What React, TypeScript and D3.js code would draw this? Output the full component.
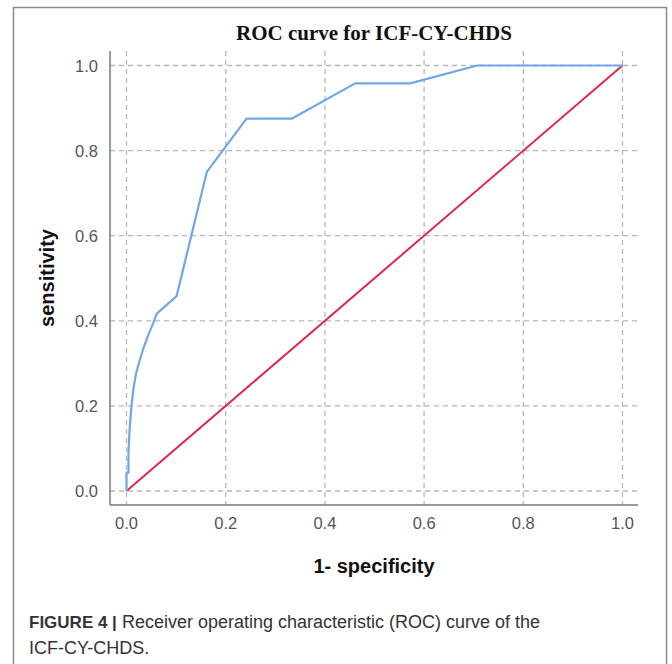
import React from "react";
import * as d3 from "d3";

const fpr = [0, 0, 0.004, 0.004, 0.006, 0.01, 0.014, 0.019, 0.026, 0.034, 0.044, 0.054, 0.061, 0.101, 0.162, 0.242, 0.333, 0.461, 0.572, 0.707, 1.0];
const tpr = [0, 0.043, 0.043, 0.09, 0.14, 0.2, 0.24, 0.275, 0.305, 0.335, 0.367, 0.395, 0.417, 0.458, 0.75, 0.875, 0.875, 0.958, 0.958, 1.0, 1.0];
const refLine = [0, 1];
const ticks = [0, 0.2, 0.4, 0.6, 0.8, 1.0];

export default function App() {
  const W = 672, H = 664;
  const x = d3.scaleLinear().domain([0, 1]).range([126.5, 622.5]);
  const y = d3.scaleLinear().domain([0, 1]).range([491, 65.5]);
  const line = d3.line<[number, number]>().x(d => x(d[0])).y(d => y(d[1]));
  const roc = line(fpr.map((f, i) => [f, tpr[i]] as [number, number]));
  const diag = line(refLine.map(v => [v, v] as [number, number]));
  const axL = 110, axB = 505, plotTop = 51, plotRight = 638;
  const tickFont = "'Liberation Sans', Arial, sans-serif";
  return (
    <svg width={W} height={H} style={{ position: "absolute", left: 0, top: 0, background: "#fff" }}>
      <rect x={13.5} y={7.5} width={653} height={700} fill="#fff" stroke="#8a8a8a" strokeWidth={1.5} />
      <text x={374} y={40} textAnchor="middle" fontFamily="'Liberation Serif', 'Times New Roman', serif" fontWeight="bold" fontSize={21} fill="#111">ROC curve for ICF-CY-CHDS</text>
      {ticks.map(t => (
        <line key={"gh" + t} x1={axL} x2={plotRight} y1={y(t)} y2={y(t)} stroke="#b8b8b8" strokeWidth={1.3} strokeDasharray="5,4" />
      ))}
      {ticks.map(t => (
        <line key={"gv" + t} x1={x(t)} x2={x(t)} y1={plotTop} y2={axB} stroke="#b8b8b8" strokeWidth={1.3} strokeDasharray="5,4" />
      ))}
      <line x1={axL} x2={axL} y1={plotTop} y2={axB} stroke="#777" strokeWidth={1.5} />
      <line x1={axL} x2={plotRight} y1={axB} y2={axB} stroke="#777" strokeWidth={1.5} />
      {ticks.map(t => (
        <text key={"yl" + t} x={98} y={y(t) + 6} textAnchor="end" fontFamily={tickFont} fontSize={16.5} fill="#555">{t.toFixed(1)}</text>
      ))}
      {ticks.map(t => (
        <text key={"xl" + t} x={x(t)} y={529} textAnchor="middle" fontFamily={tickFont} fontSize={16.5} fill="#555">{t.toFixed(1)}</text>
      ))}
      <path d={diag || ""} fill="none" stroke="#e0284f" strokeWidth={2} />
      <path d={roc || ""} fill="none" stroke="#70a7ec" strokeWidth={2.2} strokeLinejoin="round" />
      <text x={374} y={573} textAnchor="middle" fontFamily={tickFont} fontWeight="bold" fontSize={20} fill="#111">1- specificity</text>
      <text transform="translate(54,278) rotate(-90)" textAnchor="middle" fontFamily={tickFont} fontWeight="bold" fontSize={20} fill="#111">sensitivity</text>
      <text x={29} y={628} fontFamily="'Liberation Sans', Arial, sans-serif" fontSize={18} fill="#333">
        <tspan fontWeight="bold" fontSize={17}>FIGURE 4 |</tspan> Receiver operating characteristic (ROC) curve of the
      </text>
      <text x={29} y={654} fontFamily="'Liberation Sans', Arial, sans-serif" fontSize={18} fill="#333">ICF-CY-CHDS.</text>
    </svg>
  );
}
